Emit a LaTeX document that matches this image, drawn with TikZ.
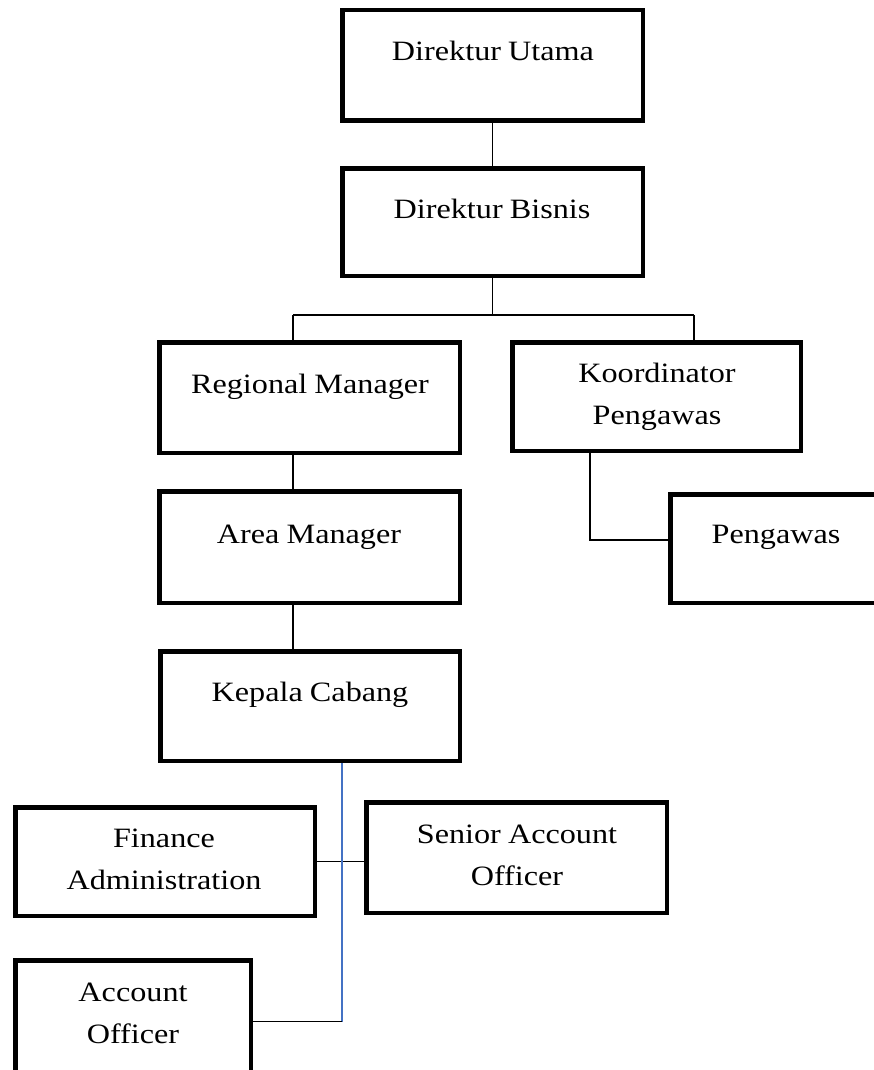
\documentclass[tikz,border=0pt]{standalone}
\usepackage{fontspec}
\usepackage{graphicx}
\newfontfamily\tnr{Liberation Serif}
\newcommand{\sx}[1]{\scalebox{1.15}[1]{\spaceskip=6.2pt\relax #1}}
\definecolor{lineblue}{HTML}{4472C4}
\begin{document}
\begin{tikzpicture}[x=1pt,y=-1pt,
  orgbox/.style={draw=black, line width=4.5pt, rectangle, inner sep=0pt},
  lbl/.style={anchor=base, text width=330pt, align=center, inner sep=0pt,
    font=\tnr\fontsize{28}{42}\selectfont},
  conn/.style={draw=black, line width=1.5pt},
  blueconn/.style={draw=lineblue, line width=1.5pt}]
\path[use as bounding box] (0,0) rectangle (874,1070);
\clip (0,0) rectangle (874,1070);
\fill[white] (0,0) rectangle (874,1070);

% boxes
\node[orgbox, minimum width=300.5pt, minimum height=110.5pt] (du) at (492.5,65.5) {};
\node[orgbox, minimum width=300.5pt, minimum height=107.5pt] (db) at (492.5,222) {};
\node[orgbox, minimum width=300.5pt, minimum height=110.5pt] (rm) at (309.5,397.5) {};
\node[orgbox, minimum width=288.5pt, minimum height=108.5pt] (kp) at (656.5,396.5) {};
\node[orgbox, minimum width=300.5pt, minimum height=111.5pt] (am) at (309.5,547) {};
\node[orgbox, minimum width=211.5pt, minimum height=108.5pt] (pg) at (776,548.5) {};
\node[orgbox, minimum width=299.5pt, minimum height=109.5pt] (kc) at (310,706) {};
\node[orgbox, minimum width=299.5pt, minimum height=108.5pt] (fa) at (165,861.5) {};
\node[orgbox, minimum width=300.5pt, minimum height=110.5pt] (sa) at (516.5,857.5) {};
\node[orgbox, minimum width=235.5pt, minimum height=122.5pt] (ao) at (133,1021.5) {};

% labels
\node[lbl] (tdu) at (493,61) {\sx{Direktur Utama}};
\node[lbl] (tdb) at (492,218) {\sx{Direktur Bisnis}};
\node[lbl] (trm) at (310,393) {\sx{Regional Manager}};
\node[lbl] (tkp) at (657,382) {\sx{Koordinator}\\\sx{Pengawas}};
\node[lbl] (tam) at (309,543) {\sx{Area Manager}};
\node[lbl] (tpg) at (776,543) {\sx{Pengawas}};
\node[lbl] (tkc) at (310,701) {\sx{Kepala Cabang}};
\node[lbl] (tfa) at (164,847) {\sx{Finance}\\\sx{Administration}};
\node[lbl] (tsa) at (517,843) {\sx{Senior Account}\\\sx{Officer}};
\node[lbl] (tao) at (133,1001) {\sx{Account}\\\sx{Officer}};

% junction coordinates
\coordinate (j1) at (293,315);
\coordinate (j2) at (694,315);
\coordinate (kx) at (590,0);
\coordinate (bx) at (342,0);

% connectors
\draw[conn] (du.south) -- (db.north);
\draw[conn] (db.south) -- (db.south |- j1);
\draw[conn] (j1) -- (j2);
\draw[conn] (j1) -- (j1 |- rm.north);
\draw[conn] (j2) -- (j2 |- kp.north);
\draw[conn] (j1 |- rm.south) -- (j1 |- am.north);
\draw[conn] (j1 |- am.south) -- (j1 |- kc.north);
\draw[conn] (kx |- kp.south) |- ([yshift=8.5pt]pg.west);
\draw[conn] (fa.east) -- (fa.east -| sa.west);
\draw[blueconn] (bx |- kc.south) -- (bx |- ao.east);
\draw[conn] (bx |- ao.east) -- (ao.east);
\end{tikzpicture}
\end{document}
